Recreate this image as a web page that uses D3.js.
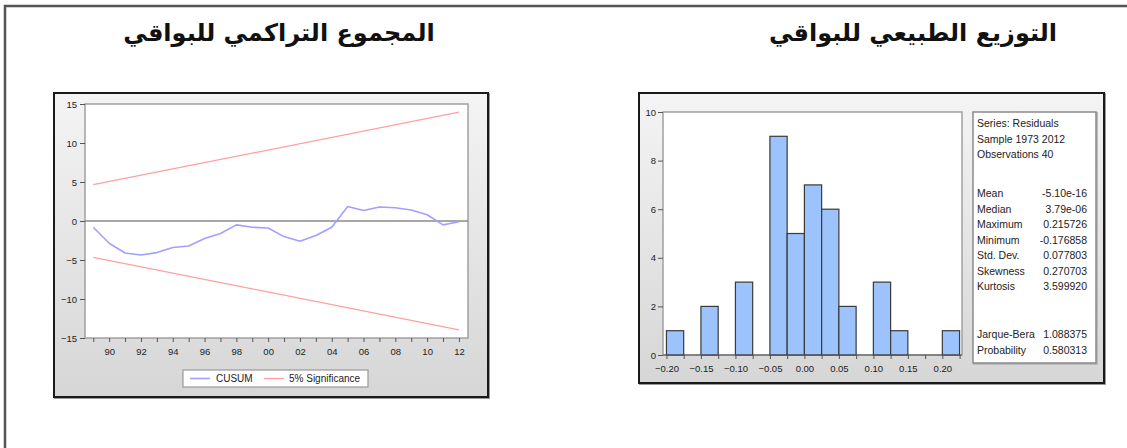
<!DOCTYPE html>
<html>
<head>
<meta charset="utf-8">
<script src="https://cdn.jsdelivr.net/npm/d3@7"></script>
<style>
  body { margin: 0; background: #fff; }
  svg { display: block; }
</style>
</head>
<body>
<div id="chart"></div>
<script>
// ---- CUSUM chart data ----
var cusumYears  = [1989, 1990, 1991, 1992, 1993, 1994, 1995, 1996, 1997, 1998, 1999, 2000,
                   2001, 2002, 2003, 2004, 2005, 2006, 2007, 2008, 2009, 2010, 2011, 2012];
var cusumValues = [-0.8, -2.85, -4.1, -4.35, -4.05, -3.4, -3.2, -2.25, -1.6, -0.5, -0.8, -0.9,
                   -2.0, -2.6, -1.85, -0.8, 1.85, 1.35, 1.8, 1.7, 1.4, 0.8, -0.5, -0.1];
var boundYears  = [1989, 2012];
var boundUpper  = [4.65, 13.95];
var boundLower  = [-4.65, -13.95];
var cusumYTicks = [-15, -10, -5, 0, 5, 10, 15];
var cusumXLabels = [1990, 1992, 1994, 1996, 1998, 2000, 2002, 2004, 2006, 2008, 2010, 2012];
var cusumLegend = ["CUSUM", "5% Significance"];

// ---- histogram data ----
var binStarts = [-0.2, -0.175, -0.15, -0.125, -0.1, -0.075, -0.05, -0.025, 0, 0.025,
                 0.05, 0.075, 0.1, 0.125, 0.15, 0.175, 0.2];
var binCounts = [1, 0, 2, 0, 3, 0, 9, 5, 7, 6, 2, 0, 3, 1, 0, 0, 1];
var binWidth = 0.025;
var histYTicks = [0, 2, 4, 6, 8, 10];
var histXLabels = [-0.2, -0.15, -0.1, -0.05, 0, 0.05, 0.1, 0.15, 0.2];

// ---- statistics box ----
var statHeader = ["Series: Residuals", "Sample 1973 2012", "Observations 40"];
var statLabels = ["Mean", "Median", "Maximum", "Minimum", "Std. Dev.", "Skewness", "Kurtosis"];
var statValues = ["-5.10e-16", "3.79e-06", "0.215726", "-0.176858", "0.077803", "0.270703", "3.599920"];
var testLabels = ["Jarque-Bera", "Probability"];
var testValues = ["1.088375", "0.580313"];

var titles = ["المجموع التراكمي للبواقي", "التوزيع الطبيعي للبواقي"];

var W = 1127, H = 448;
var tickFont = "'Liberation Sans', Arial, sans-serif";
var svg = d3.select("#chart").append("svg").attr("width", W).attr("height", H);

var defs = svg.append("defs");
var grad = defs.append("linearGradient").attr("id", "panelGrad")
  .attr("x1", 0).attr("y1", 0).attr("x2", 0).attr("y2", 1);
grad.append("stop").attr("offset", "0%").attr("stop-color", "#f4f4f4");
grad.append("stop").attr("offset", "100%").attr("stop-color", "#d6d6d6");

// outer frame (only top and left edges fall inside the picture)
svg.append("path")
  .attr("d", "M5,448 L5,6 L1127,6")
  .attr("fill", "none").attr("stroke", "#555").attr("stroke-width", 2.5);

// titles
[279, 913].forEach(function(x, i) {
  svg.append("text").attr("x", x).attr("y", 41).attr("text-anchor", "middle")
    .style("font-family", "'DejaVu Sans', sans-serif").style("font-weight", "bold")
    .style("font-size", "24px").attr("fill", "#111").text(titles[i]);
});

function drawPanel(x, y, w, h) {
  svg.append("rect").attr("x", x + 1).attr("y", y + 1).attr("width", w).attr("height", h)
    .attr("fill", "none").attr("stroke", "#999").attr("stroke-width", 2);
  svg.append("rect").attr("x", x).attr("y", y).attr("width", w).attr("height", h)
    .attr("fill", "url(#panelGrad)").attr("stroke", "#1a1a1a").attr("stroke-width", 2);
}

function styleAxis(g) {
  g.select(".domain").remove();
  g.selectAll(".tick line").attr("stroke", "#555");
  g.selectAll(".tick text").attr("fill", "#222")
    .style("font-family", tickFont).style("font-size", "9.5px");
}

// ================= left: CUSUM =================
drawPanel(54, 93, 434, 304);
var cx = d3.scaleLinear().domain([1988.48, 2012.57]).range([85, 468]);
var cy = d3.scaleLinear().domain([-15, 15]).range([338, 104]);

svg.append("rect").attr("x", 85).attr("y", 104).attr("width", 383).attr("height", 234)
  .attr("fill", "#fff").attr("stroke", "#a0a0a0").attr("stroke-width", 1.5);

svg.append("g").attr("transform", "translate(85,0)")
  .call(d3.axisLeft(cy).tickValues(cusumYTicks).tickSize(5).tickPadding(3))
  .call(styleAxis);

svg.append("g").attr("transform", "translate(0,338)")
  .call(d3.axisBottom(cx).tickValues(cusumYears).tickSize(4).tickPadding(6)
    .tickFormat(function(d) { return cusumXLabels.indexOf(d) >= 0 ? String(d).slice(2) : ""; }))
  .call(styleAxis);

// zero line
svg.append("line").attr("x1", 85).attr("x2", 468).attr("y1", cy(0)).attr("y2", cy(0))
  .attr("stroke", "#8a8a8a").attr("stroke-width", 1.5);

var boundLine = d3.line().x(function(d, i) { return cx(boundYears[i]); }).y(function(d) { return cy(d); });
svg.append("path").datum(boundUpper).attr("d", boundLine)
  .attr("fill", "none").attr("stroke", "#ffa0a0").attr("stroke-width", 1.3);
svg.append("path").datum(boundLower).attr("d", boundLine)
  .attr("fill", "none").attr("stroke", "#ffa0a0").attr("stroke-width", 1.3);

svg.append("path").datum(cusumValues)
  .attr("d", d3.line().x(function(d, i) { return cx(cusumYears[i]); }).y(function(d) { return cy(d); }))
  .attr("fill", "none").attr("stroke", "#a0a0ff").attr("stroke-width", 1.6)
  .attr("stroke-linejoin", "round");

// legend
var lg = svg.append("g").attr("transform", "translate(183,370)");
lg.append("rect").attr("width", 185).attr("height", 17)
  .attr("fill", "#fff").attr("stroke", "#999").attr("stroke-width", 1.2);
lg.append("line").attr("x1", 7).attr("x2", 27).attr("y1", 8.5).attr("y2", 8.5)
  .attr("stroke", "#a0a0ff").attr("stroke-width", 1.6);
lg.append("text").attr("x", 33).attr("y", 12).text(cusumLegend[0])
  .style("font-family", tickFont).style("font-size", "10px").attr("fill", "#222");
lg.append("line").attr("x1", 81).attr("x2", 101).attr("y1", 8.5).attr("y2", 8.5)
  .attr("stroke", "#ffa0a0").attr("stroke-width", 1.3);
lg.append("text").attr("x", 106).attr("y", 12).text(cusumLegend[1])
  .style("font-family", tickFont).style("font-size", "10px").attr("fill", "#222");

// ================= right: histogram =================
drawPanel(639, 93, 465, 290);
var hx = d3.scaleLinear().domain([-0.205, 0.2285]).range([663, 962]);
var hy = d3.scaleLinear().domain([0, 10]).range([355, 112]);

svg.append("rect").attr("x", 663).attr("y", 112).attr("width", 299).attr("height", 243)
  .attr("fill", "#fff").attr("stroke", "#a0a0a0").attr("stroke-width", 1.5);

svg.append("g").selectAll("rect").data(binCounts).join("rect")
  .attr("x", function(d, i) { return hx(binStarts[i]); })
  .attr("width", function(d, i) { return hx(binStarts[i] + binWidth) - hx(binStarts[i]); })
  .attr("y", function(d) { return hy(d); })
  .attr("height", function(d) { return hy(0) - hy(d); })
  .attr("fill", "#9cc3fc").attr("stroke", "#3a3a3a").attr("stroke-width", 1.2);

svg.append("line").attr("x1", 663).attr("x2", 962).attr("y1", 355).attr("y2", 355)
  .attr("stroke", "#555").attr("stroke-width", 1.2);

svg.append("g").attr("transform", "translate(663,0)")
  .call(d3.axisLeft(hy).tickValues(histYTicks).tickSize(5).tickPadding(2))
  .call(styleAxis);

var histTickVals = binStarts.concat([0.225]);
svg.append("g").attr("transform", "translate(0,355)")
  .call(d3.axisBottom(hx).tickValues(histTickVals).tickSize(4).tickPadding(6)
    .tickFormat(function(d) {
      var hit = histXLabels.some(function(v) { return Math.abs(v - d) < 1e-9; });
      return hit ? d3.format(".2f")(d) : "";
    }))
  .call(styleAxis);

// statistics box
svg.append("rect").attr("x", 974).attr("y", 113).attr("width", 123).attr("height", 251)
  .attr("fill", "none").attr("stroke", "#bbb").attr("stroke-width", 2);
svg.append("rect").attr("x", 973).attr("y", 112).attr("width", 123).attr("height", 251)
  .attr("fill", "#fff").attr("stroke", "#8a8a8a").attr("stroke-width", 1.5);

var lineStep = 15.5;
var st = svg.append("g").style("font-family", tickFont).style("font-size", "10.5px").attr("fill", "#222");
statHeader.forEach(function(t, i) {
  st.append("text").attr("x", 977).attr("y", 127 + i * lineStep).text(t);
});
statLabels.forEach(function(t, i) {
  var yy = 197 + i * lineStep;
  st.append("text").attr("x", 977).attr("y", yy).text(t);
  st.append("text").attr("x", 1087).attr("y", yy).attr("text-anchor", "end").text(statValues[i]);
});
testLabels.forEach(function(t, i) {
  var yy = 338 + i * lineStep;
  st.append("text").attr("x", 977).attr("y", yy).text(t);
  st.append("text").attr("x", 1087).attr("y", yy).attr("text-anchor", "end").text(testValues[i]);
});
</script>
</body>
</html>
